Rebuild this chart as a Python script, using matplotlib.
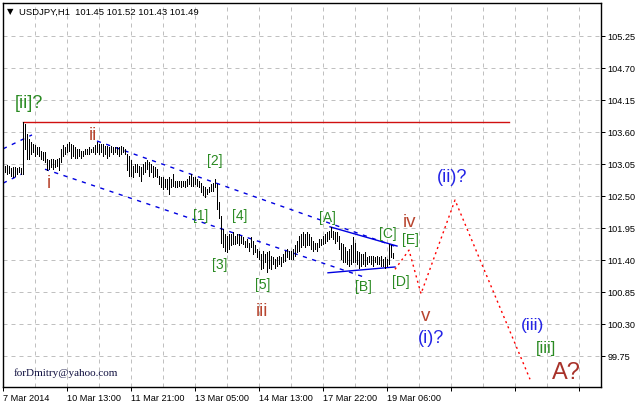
import numpy as np
import matplotlib.pyplot as plt

# USDJPY H1 bars (one bar every 2 px)
bar_high = [
    103.02, 103.03, 103.01, 102.98, 102.99, 103.00, 102.98, 102.99, 102.98, 103.77,
    103.74, 103.57, 103.48, 103.42, 103.39, 103.37, 103.34, 103.34, 103.28, 103.25,
    103.25, 103.14, 103.11, 103.14, 103.14, 103.11, 103.14, 103.16, 103.31, 103.37,
    103.34, 103.39, 103.42, 103.39, 103.37, 103.34, 103.31, 103.31, 103.28, 103.28,
    103.31, 103.31, 103.34, 103.31, 103.34, 103.37, 103.42, 103.39,
    103.39, 103.39, 103.36, 103.36, 103.34, 103.36, 103.34, 103.34, 103.34, 103.34,
    103.36, 103.34, 103.31, 103.22, 103.19, 103.11, 103.02, 103.05, 103.05, 103.02,
    102.99, 103.05, 103.08, 103.11, 103.08, 103.05, 103.02, 102.99, 102.96, 102.85,
    102.82, 102.82, 102.79, 102.79, 102.82, 102.79, 102.88, 102.76, 102.76, 102.76,
    102.76, 102.76, 102.76, 102.79, 102.85, 102.88, 102.82, 102.82,
    102.79, 102.76, 102.73, 102.68, 102.65, 102.62, 102.65, 102.71, 102.73, 102.79,
    102.71, 102.39, 102.16, 101.93, 101.85, 101.82, 101.85, 101.85, 101.88, 101.82,
    101.85, 101.85, 101.82, 101.79, 101.73, 101.76, 101.70, 101.79, 101.73, 101.65,
    101.59, 101.56, 101.50, 101.56, 101.50, 101.53, 101.56, 101.47, 101.45, 101.42,
    101.45, 101.47, 101.45, 101.50, 101.56, 101.59, 101.56,
    101.56, 101.59, 101.65, 101.73, 101.82, 101.85, 101.88, 101.85, 101.88, 101.85,
    101.79, 101.73, 101.70, 101.70, 101.76, 101.76, 101.82, 101.85, 101.88, 101.90,
    101.96, 101.90, 101.88, 101.88, 101.82, 101.70, 101.67, 101.62, 101.56, 101.59,
    101.65, 101.79, 101.70, 101.56, 101.53, 101.50, 101.50, 101.53, 101.45, 101.47,
    101.47, 101.47, 101.45, 101.47, 101.45, 101.47, 101.42, 101.45, 101.42, 101.67,
    101.65, 101.52,
]
bar_low = [
    102.91, 102.88, 102.90, 102.85, 102.82, 102.85, 102.88, 102.91, 102.88, 102.88,
    103.31, 103.14, 103.14, 103.22, 103.25, 103.19, 103.22, 103.19, 103.14, 103.11,
    103.08, 102.94, 102.96, 102.99, 102.96, 102.99, 103.02, 102.94, 103.08, 103.19,
    103.22, 103.25, 103.28, 103.16, 103.19, 103.16, 103.16, 103.19, 103.16, 103.19,
    103.22, 103.22, 103.22, 103.25, 103.25, 103.22, 103.25, 103.22,
    103.25, 103.19, 103.22, 103.16, 103.19, 103.25, 103.22, 103.25, 103.22, 103.19,
    103.22, 103.25, 103.22, 102.94, 102.85, 102.85, 102.82, 102.91, 102.91, 102.85,
    102.76, 102.88, 102.91, 102.96, 102.85, 102.91, 102.82, 102.85, 102.82, 102.71,
    102.65, 102.62, 102.65, 102.62, 102.53, 102.65, 102.68, 102.65, 102.65, 102.68,
    102.65, 102.68, 102.65, 102.68, 102.71, 102.68, 102.68, 102.71,
    102.68, 102.65, 102.56, 102.51, 102.48, 102.53, 102.56, 102.59, 102.59, 102.65,
    102.28, 102.13, 101.70, 101.62, 101.56, 101.53, 101.59, 101.65, 101.67, 101.67,
    101.70, 101.65, 101.70, 101.67, 101.62, 101.62, 101.56, 101.62, 101.50, 101.53,
    101.45, 101.42, 101.25, 101.27, 101.36, 101.19, 101.27, 101.25, 101.33, 101.27,
    101.30, 101.33, 101.30, 101.36, 101.39, 101.45, 101.42,
    101.42, 101.42, 101.47, 101.53, 101.56, 101.62, 101.65, 101.62, 101.65, 101.65,
    101.59, 101.56, 101.59, 101.56, 101.62, 101.65, 101.68, 101.70, 101.73, 101.76,
    101.79, 101.76, 101.70, 101.73, 101.59, 101.42, 101.36, 101.36, 101.33, 101.30,
    101.33, 101.36, 101.36, 101.33, 101.27, 101.30, 101.33, 101.30, 101.33, 101.36,
    101.33, 101.30, 101.36, 101.33, 101.33, 101.30, 101.30, 101.27, 101.30, 101.33,
    101.45, 101.43,
]

time_labels = ['7 Mar 2014', '10 Mar 13:00', '11 Mar 21:00', '13 Mar 05:00',
               '14 Mar 13:00', '17 Mar 22:00', '19 Mar 06:00']
time_label_bars = [0, 32, 64, 96, 128, 160, 192]
future_tick_bars = [224, 256, 288]
price_ticks = [99.75, 100.30, 100.85, 101.40, 101.95, 102.50,
               103.05, 103.60, 104.15, 104.70, 105.25]

# trend lines (bar, price) pairs
resist_bars, resist_prices = [10, 253], [103.77, 103.77]
chan_up_bars, chan_up_prices = [47, 197], [103.445, 101.623]
chan_lo_bars, chan_lo_prices = [21, 182], [102.96, 101.09]
old_up_bars, old_up_prices = [0, 14.5], [103.31, 103.55]
old_lo_bars, old_lo_prices = [0, 9.5], [102.72, 102.88]
tri_up_bars, tri_up_prices = [163.5, 197], [101.97, 101.64]
tri_lo_bars, tri_lo_prices = [162.5, 196], [101.18, 101.28]
fc_bars = [196, 203, 209, 226, 263.5]
fc_prices = [101.24, 101.57, 100.82, 102.43, 99.35]

GREEN = '#2a8a22'
BROWN = '#b8452f'
BLUE = '#2424e6'

# wave labels: text, bar, price, colour, size
labels = [
    ('[ii]?', 6, 104.10, GREEN, 13),
    ('i', 22, 102.74, BROWN, 13.5),
    ('ii', 43, 103.55, BROWN, 13.5),
    ('[1]', 95, 102.17, GREEN, 10),
    ('[2]', 102, 103.12, GREEN, 10),
    ('[3]', 104.5, 101.33, GREEN, 10),
    ('[4]', 114.5, 102.17, GREEN, 10),
    ('[5]', 126, 100.99, GREEN, 10),
    ('iii', 126.5, 100.54, BROWN, 13.5),
    ('[A]', 158, 102.14, GREEN, 10),
    ('[B]', 176, 100.96, GREEN, 10),
    ('[C]', 188, 101.87, GREEN, 10),
    ('[D]', 194.5, 101.04, GREEN, 10),
    ('[E]', 199.5, 101.76, GREEN, 10),
    ('iv', 200, 102.07, BROWN, 13.5),
    ('v', 209, 100.45, BROWN, 13.5),
    ('(i)?', 207.5, 100.07, BLUE, 13),
    ('(ii)?', 217, 102.83, BLUE, 13),
    ('(iii)', 259, 100.29, BLUE, 12.5),
    ('[iii]', 266.5, 99.90, GREEN, 12),
    ('A?', 274.5, 99.47, '#a8322a', 17),
]

fig = plt.figure(figsize=(6.37, 4.06), dpi=100)
ax = fig.add_axes([3 / 637, 18 / 406, 598 / 637, 384 / 406])

px = 0.72
n = np.arange(1, len(bar_high) + 1)

ax.set_xlim(0, 299)
ax.set_ylim(99.217, 105.817)

# grid
for g in range(16, 299, 16):
    ax.axvline(g, color='#c0c0c0', lw=px, ls=(0, (4, 4)), zorder=0)
for p in price_ticks:
    ax.axhline(p, color='#c0c0c0', lw=px, ls=(0, (4, 4)), zorder=0)

ax.vlines(n, bar_low, bar_high, color='black', lw=px, antialiased=False, zorder=3)

ax.plot(resist_bars, resist_prices, color='#d01010', lw=1.0, zorder=2)
dots = (0, (3, 4))
for bx, py in [(chan_up_bars, chan_up_prices), (chan_lo_bars, chan_lo_prices),
               (old_up_bars, old_up_prices), (old_lo_bars, old_lo_prices)]:
    ax.plot(bx, py, color='#0000e0', lw=1.0, ls=dots, zorder=2)
ax.plot(tri_up_bars, tri_up_prices, color='#0000e0', lw=1.0, zorder=2)
ax.plot(tri_lo_bars, tri_lo_prices, color='#0000e0', lw=1.0, zorder=2)
ax.plot(fc_bars, fc_prices, color='#ff0000', lw=1.0, ls=(0, (1.5, 2.5)), zorder=2)

for txt, bx, py, col, fs in labels:
    ax.text(bx, py, txt, color=col, fontsize=fs, ha='left', va='center',
            family=['Liberation Sans', 'DejaVu Sans'], zorder=4)

ax.text(5.5, 99.47, 'forDmitry@yahoo.com', family='Liberation Serif',
        fontsize=8, color='#101040', ha='left', va='center')

# axes
for s in ax.spines.values():
    s.set_color('black')
    s.set_linewidth(1.0)
ax.yaxis.tick_right()
ax.set_yticks(price_ticks)
ax.set_yticklabels(['%.2f' % p for p in price_ticks])
ax.set_xticks(time_label_bars + future_tick_bars)
ax.set_xticklabels(time_labels + [''] * len(future_tick_bars), ha='left')
ax.tick_params(axis='both', direction='out', length=3, width=px, color='black',
               labelsize=6.6, pad=1.5)
for t in ax.get_xticklabels() + ax.get_yticklabels():
    t.set_family(['Liberation Sans', 'DejaVu Sans'])

fig.text(7 / 637, 1 - 12 / 406, '\u25bc', fontsize=6, va='center', ha='left',
         family='DejaVu Sans')
fig.text(19 / 637, 1 - 12 / 406, 'USDJPY,H1  101.45 101.52 101.43 101.49',
         fontsize=6.8, va='center', ha='left', family='Liberation Sans')

fig.savefig('out.png', dpi=100)
